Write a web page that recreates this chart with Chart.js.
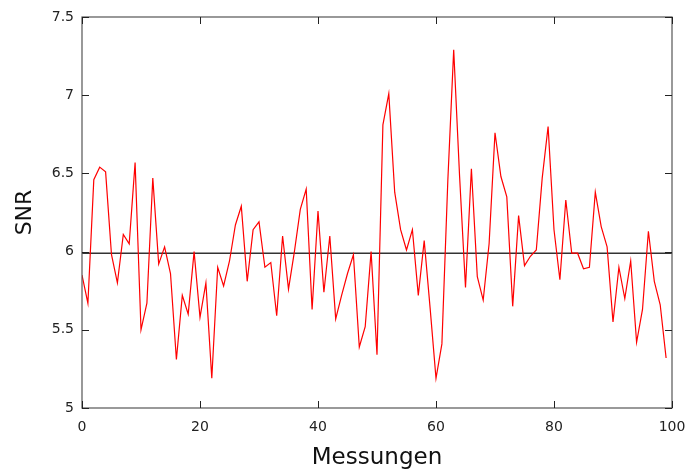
<!DOCTYPE html>
<html>
<head>
<meta charset="utf-8">
<script src="https://cdn.jsdelivr.net/npm/chart.js@4.4.0/dist/chart.umd.min.js"></script>
<style>
  html, body { margin: 0; padding: 0; background: #fff; }
  #wrap { width: 687px; height: 472px; }
</style>
</head>
<body>
<div id="wrap"><canvas id="snrChart" width="687" height="472"></canvas></div>
<script>
// SNR pro Messung
const measurements = [
    0, 1, 2, 3, 4, 5, 6, 7, 8, 9,
    10, 11, 12, 13, 14, 15, 16, 17, 18, 19,
    20, 21, 22, 23, 24, 25, 26, 27, 28, 29,
    30, 31, 32, 33, 34, 35, 36, 37, 38, 39,
    40, 41, 42, 43, 44, 45, 46, 47, 48, 49,
    50, 51, 52, 53, 54, 55, 56, 57, 58, 59,
    60, 61, 62, 63, 64, 65, 66, 67, 68, 69,
    70, 71, 72, 73, 74, 75, 76, 77, 78, 79,
    80, 81, 82, 83, 84, 85, 86, 87, 88, 89,
    90, 91, 92, 93, 94, 95, 96, 97, 98, 99
];
const snrValues = [
    5.85, 5.67, 6.46, 6.54, 6.51, 5.98, 5.80, 6.11, 6.05, 6.57,
    5.50, 5.67, 6.47, 5.92, 6.03, 5.86, 5.31, 5.72, 5.60, 6.00,
    5.58, 5.80, 5.19, 5.90, 5.78, 5.94, 6.17, 6.29, 5.81, 6.14,
    6.19, 5.90, 5.93, 5.59, 6.10, 5.76, 6.00, 6.27, 6.40, 5.63,
    6.26, 5.74, 6.10, 5.57, 5.72, 5.86, 5.98, 5.39, 5.52, 6.00,
    5.34, 6.81, 7.01, 6.38, 6.14, 6.01, 6.14, 5.72, 6.07, 5.64,
    5.19, 5.41, 6.45, 7.29, 6.48, 5.77, 6.53, 5.84, 5.69, 6.05,
    6.76, 6.48, 6.35, 5.65, 6.23, 5.91, 5.97, 6.01, 6.47, 6.80,
    6.14, 5.82, 6.33, 5.99, 5.99, 5.89, 5.90, 6.38, 6.16, 6.03,
    5.55, 5.90, 5.70, 5.94, 5.42, 5.63, 6.13, 5.81, 5.66, 5.32
];
const meanSnr = 5.99;
const meanLineX = [0, 100];
const xTicks = [0, 20, 40, 60, 80, 100];
const yTicks = [5, 5.5, 6, 6.5, 7, 7.5];

const tickFont = { family: 'DejaVu Sans', size: 14 };

// Rahmen + Ticks nach innen, auf allen vier Seiten
const framePlugin = {
    id: 'frame',
    afterDraw(chart) {
        const { ctx, chartArea: a, scales } = chart;
        ctx.save();
        ctx.strokeStyle = '#555';
        ctx.lineWidth = 1.2;
        ctx.strokeRect(a.left, a.top, a.right - a.left, a.bottom - a.top);
        ctx.strokeStyle = '#222';
        ctx.lineWidth = 1;
        const len = 7;
        ctx.beginPath();
        xTicks.forEach(v => {
            const px = Math.round(scales.x.getPixelForValue(v)) + 0.5;
            ctx.moveTo(px, a.bottom); ctx.lineTo(px, a.bottom - len);
            ctx.moveTo(px, a.top); ctx.lineTo(px, a.top + len);
        });
        yTicks.forEach(v => {
            const py = Math.round(scales.y.getPixelForValue(v)) + 0.5;
            ctx.moveTo(a.left, py); ctx.lineTo(a.left + len, py);
            ctx.moveTo(a.right, py); ctx.lineTo(a.right - len, py);
        });
        ctx.stroke();
        ctx.restore();
    }
};

new Chart(document.getElementById('snrChart').getContext('2d'), {
    type: 'line',
    data: {
        datasets: [{
            label: 'SNR',
            data: measurements.map((m, i) => ({ x: m, y: snrValues[i] })),
            borderColor: '#ff0000',
            borderWidth: 1.2,
            pointRadius: 0,
            tension: 0
        }, {
            label: 'Mittelwert',
            data: meanLineX.map(x => ({ x: x, y: meanSnr })),
            borderColor: '#333',
            borderWidth: 1.5,
            pointRadius: 0
        }]
    },
    options: {
        responsive: false,
        animation: false,
        layout: { padding: { top: 17, right: 15, bottom: 0, left: 0 } },
        plugins: {
            legend: { display: false },
            tooltip: { enabled: false }
        },
        scales: {
            x: {
                type: 'linear',
                min: 0,
                max: 100,
                afterBuildTicks: s => { s.ticks = xTicks.map(v => ({ value: v })); },
                afterFit: s => { s.height = 64; s.paddingLeft = 0; s.paddingRight = 0; },
                grid: { display: false, drawTicks: false },
                border: { display: false },
                ticks: { color: '#222', font: tickFont, padding: 11, maxRotation: 0 },
                title: { display: true, text: 'Messungen', color: '#111', font: { family: 'DejaVu Sans', size: 23 }, padding: { top: 0, bottom: 0 } }
            },
            y: {
                type: 'linear',
                min: 5,
                max: 7.5,
                afterBuildTicks: s => { s.ticks = yTicks.map(v => ({ value: v })); },
                afterFit: s => { s.width = 82; s.paddingTop = 0; s.paddingBottom = 0; },
                grid: { display: false, drawTicks: false },
                border: { display: false },
                ticks: { color: '#222', font: tickFont, padding: 8, callback: v => String(v) },
                title: { display: true, text: 'SNR', color: '#111', font: { family: 'DejaVu Sans', size: 22 }, padding: { top: 12, bottom: 0 } }
            }
        }
    },
    plugins: [framePlugin]
});
</script>
</body>
</html>
